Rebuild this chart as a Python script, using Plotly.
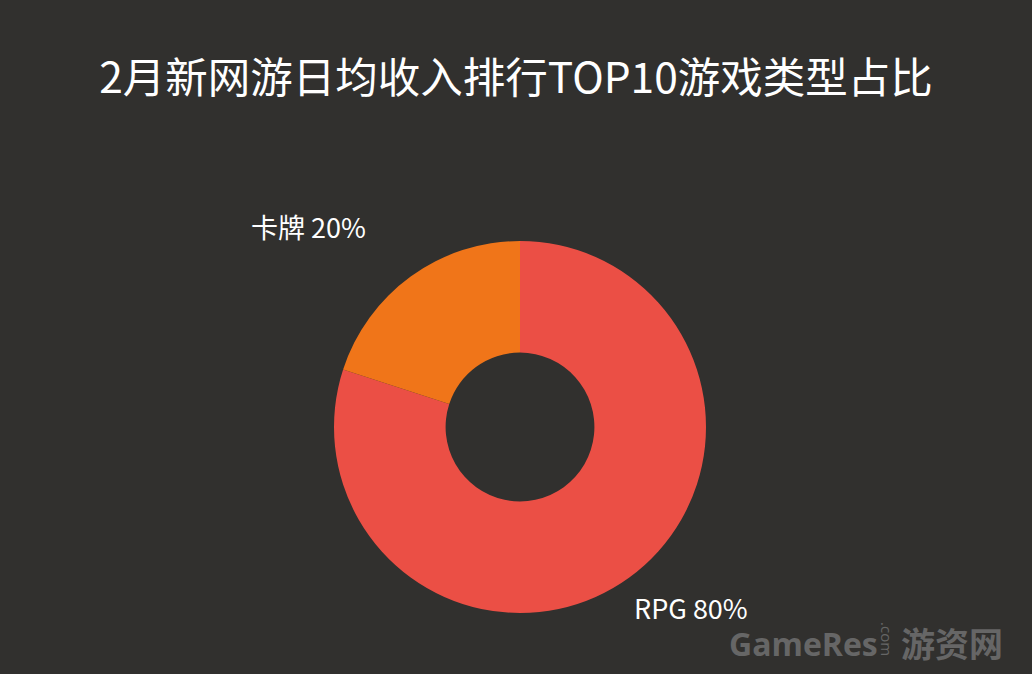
import math
import plotly.graph_objects as go

W, H = 1032, 674
title_text = "2月新网游日均收入排行TOP10游戏类型占比"
categories = ["RPG", "卡牌"]
values = [80, 20]
colors = ["#eb4f45", "#f07519"]

BG = "#31302e"
cx, cy, R = 520, 427, 186
hole = 0.4

fig = go.Figure()
fig.add_trace(go.Pie(
    labels=categories, values=values, hole=hole,
    sort=False, direction="clockwise", rotation=0,
    marker=dict(colors=colors, line=dict(width=0)),
    textinfo="none", hoverinfo="label+percent",
    domain=dict(x=[(cx - R) / W, (cx + R) / W], y=[1 - (cy + R) / H, 1 - (cy - R) / H]),
    showlegend=False,
))

# labels placed along each slice's mid-angle
total = sum(values)
acc = 0
annotations = []
rx_lab, ry_lab = 225, 235
for lab, v in zip(categories, values):
    mid = (acc + v / 2) / total * 2 * math.pi  # clockwise from top
    acc += v
    dx = math.sin(mid)
    dy = math.cos(mid)
    px = cx + rx_lab * dx - 20
    py = cy - ry_lab * dy - 10
    pct = round(v / total * 100)
    annotations.append(dict(
        x=px / W, y=1 - py / H, xref="paper", yref="paper",
        text=f"{lab} {pct}%", showarrow=False,
        xanchor="left" if dx > 0 else "right", yanchor="middle",
        font=dict(size=27, color="#ffffff", family="Noto Sans CJK SC"),
    ))

# watermark
annotations += [
    dict(x=727 / W, y=1 - 643 / H, xref="paper", yref="paper", text="<b>GameRes</b>",
         showarrow=False, xanchor="left", yanchor="middle",
         font=dict(size=32, color="#666666", family="Open Sans")),
    dict(x=887 / W, y=1 - 639 / H, xref="paper", yref="paper", text=".com",
         showarrow=False, xanchor="center", yanchor="middle", textangle=90,
         font=dict(size=15, color="#666666", family="Open Sans")),
    dict(x=1005 / W, y=1 - 642 / H, xref="paper", yref="paper", text="<b>游资网</b>",
         showarrow=False, xanchor="right", yanchor="middle",
         font=dict(size=34, color="#666666", family="Noto Sans CJK SC")),
]

fig.update_layout(
    width=W, height=H,
    paper_bgcolor=BG, plot_bgcolor=BG,
    margin=dict(l=0, r=0, t=0, b=0),
    title=dict(text=title_text, x=0.5, xanchor="center", y=1 - 78 / H, yanchor="middle",
               yref="container",
               font=dict(size=42.5, color="#ffffff", family="Noto Sans CJK SC")),
    annotations=annotations,
)

fig.write_html("out.html", config={"displayModeBar": False},
               post_script="document.body.style.margin='0';document.body.style.background='" + BG + "';")
